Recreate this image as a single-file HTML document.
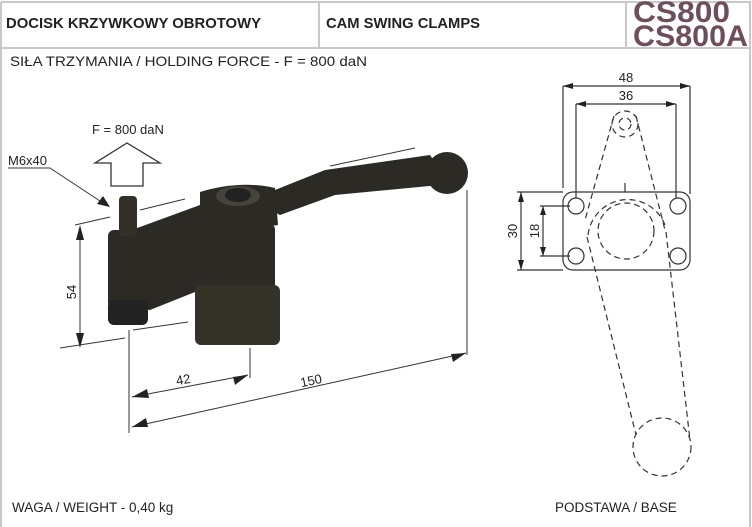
<!DOCTYPE html>
<html><head><meta charset="utf-8"><style>
body{margin:0;background:#fff;}
svg{display:block;font-family:"Liberation Sans",sans-serif;}
</style></head><body>
<svg width="752" height="527" viewBox="0 0 752 527">
<rect x="0" y="0" width="752" height="527" fill="#fff"/>
<g stroke="#c8c8c8" stroke-width="2" fill="none">
<line x1="1" y1="2" x2="751" y2="2"/>
<line x1="1" y1="48" x2="751" y2="48"/>
<line x1="1" y1="2" x2="1" y2="527"/>
<line x1="319" y1="2" x2="319" y2="48"/>
<line x1="626" y1="2" x2="626" y2="48"/>
<line x1="750" y1="2" x2="750" y2="527"/>
</g>
<text x="6" y="28" font-size="15" font-weight="bold" fill="#222" textLength="255" lengthAdjust="spacingAndGlyphs">DOCISK KRZYWKOWY OBROTOWY</text>
<text x="326" y="28" font-size="15" font-weight="bold" fill="#222" textLength="154" lengthAdjust="spacingAndGlyphs">CAM SWING CLAMPS</text>
<text x="633" y="22" font-size="30" font-weight="bold" fill="#6e4e5c" textLength="97" lengthAdjust="spacingAndGlyphs">CS800</text>
<text x="633" y="46" font-size="30" font-weight="bold" fill="#6e4e5c" textLength="115" lengthAdjust="spacingAndGlyphs">CS800A</text>
<text x="10" y="66" font-size="14" fill="#222" textLength="357" lengthAdjust="spacingAndGlyphs">SIŁA TRZYMANIA / HOLDING FORCE - F = 800 daN</text>
<text x="12" y="512" font-size="13.5" fill="#222">WAGA / WEIGHT - 0,40 kg</text>
<text x="555" y="512" font-size="13.5" fill="#222">PODSTAWA / BASE</text>

<text x="92" y="134" font-size="13" fill="#222">F = 800 daN</text>
<path d="M127,143 L160,163 L143,163 L143,186 L111,186 L111,163 L95,163 Z" fill="none" stroke="#333" stroke-width="1.3"/>
<text x="8" y="165" font-size="13" fill="#222">M6x40</text>
<line x1="8" y1="168" x2="50" y2="168" stroke="#333"/>
<line x1="50" y1="168" x2="106" y2="205" stroke="#333"/>
<path d="M110,207 L97,204 L103,196 Z" fill="#222"/>

<g fill="#2b2a25">
<path d="M325,170 L430,155 L440,170 L440,185 L335,195 L280,215 L250,200 Z"/>
<circle cx="447" cy="173" r="21"/>
<path d="M200,192 Q240,180 275,188 L278,225 Q240,232 200,225 Z"/>
<path d="M110,238 L200,205 L205,288 L150,310 L110,305 Z"/>
<rect x="195" y="225" width="80" height="65" rx="4"/>
<rect x="195" y="285" width="85" height="60" rx="6" fill="#353328"/>
<rect x="108" y="230" width="40" height="78" rx="6"/>
<rect x="108" y="300" width="40" height="25" rx="6" fill="#222"/>
<rect x="119" y="196" width="18" height="40" rx="4" fill="#333028"/>
</g>
<ellipse cx="238" cy="196" rx="22" ry="10" fill="#45433a"/>
<ellipse cx="238" cy="195" rx="13" ry="7" fill="#222"/>

<g stroke="#333" stroke-width="1" fill="none">
<line x1="75" y1="225" x2="110" y2="217"/>
<line x1="140" y1="210" x2="185" y2="199"/>
<line x1="60" y1="348" x2="125" y2="338"/>
<line x1="133" y1="330" x2="188" y2="322"/>
<line x1="80" y1="228" x2="80" y2="346"/>
<line x1="129" y1="330" x2="129" y2="433"/>
<line x1="250" y1="348" x2="250" y2="378"/>
<line x1="467" y1="190" x2="467" y2="355"/>
<line x1="132" y1="397" x2="248" y2="375"/>
<line x1="132" y1="427" x2="466" y2="353"/>
<line x1="330" y1="166" x2="415" y2="148"/>
</g>
<g fill="#222">
<path d="M80,225 L76,240 L84,240 Z"/>
<path d="M80,348 L76,333 L84,333 Z"/>
<path d="M132,397 L147,389 L149,398 Z"/>
<path d="M248,375 L233,377 L235,385 Z"/>
<path d="M132,427 L146,418 L148,427 Z"/>
<path d="M466,353 L451,354 L453,362 Z"/>
</g>
<text x="76" y="292" font-size="13" fill="#222" transform="rotate(-90 76 292)" text-anchor="middle">54</text>
<text x="184" y="384" font-size="13" fill="#222" transform="rotate(-10 184 384)" text-anchor="middle">42</text>
<text x="312" y="385" font-size="13" fill="#222" transform="rotate(-12 312 385)" text-anchor="middle">150</text>

<g stroke="#333" stroke-width="1.2" fill="none">
<rect x="563" y="192" width="127" height="78" rx="10"/>
<circle cx="576" cy="206" r="8"/><circle cx="678" cy="206" r="8"/>
<circle cx="576" cy="256" r="8"/><circle cx="678" cy="256" r="8"/>
<line x1="563" y1="86" x2="690" y2="86"/><line x1="563" y1="86" x2="563" y2="188"/><line x1="690" y1="86" x2="690" y2="194"/>
<line x1="576" y1="104" x2="676" y2="104"/><line x1="576" y1="104" x2="576" y2="198"/><line x1="676" y1="104" x2="676" y2="198"/>
<line x1="521" y1="192" x2="521" y2="270"/><line x1="517" y1="192" x2="563" y2="192"/><line x1="517" y1="270" x2="563" y2="270"/>
<line x1="543" y1="206" x2="543" y2="256"/><line x1="540" y1="206" x2="570" y2="206"/><line x1="540" y1="256" x2="570" y2="256"/>
<line x1="625" y1="183" x2="625" y2="192"/>
</g>
<g stroke="#333" stroke-width="1.2" fill="none" stroke-dasharray="6,4">
<circle cx="626" cy="231" r="28"/>
<path d="M588,235 A40,40 0 0 1 665,225"/>
<circle cx="625" cy="124" r="13"/>
<circle cx="625" cy="124" r="6"/>
<circle cx="662" cy="447" r="29"/>
<line x1="614" y1="116" x2="585" y2="220"/>
<line x1="636" y1="116" x2="665" y2="230"/>
<line x1="587" y1="237" x2="636" y2="435"/>
<line x1="666" y1="232" x2="690" y2="440"/>
</g>
<g fill="#222">
<path d="M563,86 L573,83 L573,89 Z"/><path d="M690,86 L680,83 L680,89 Z"/>
<path d="M576,104 L586,101 L586,107 Z"/><path d="M676,104 L666,101 L666,107 Z"/>
<path d="M521,192 L518,202 L524,202 Z"/><path d="M521,270 L518,260 L524,260 Z"/>
<path d="M543,206 L540,215 L546,215 Z"/><path d="M543,256 L540,247 L546,247 Z"/>
</g>
<text x="626" y="82" font-size="13" fill="#222" text-anchor="middle">48</text>
<text x="626" y="100" font-size="13" fill="#222" text-anchor="middle">36</text>
<text x="517" y="231" font-size="13" fill="#222" transform="rotate(-90 517 231)" text-anchor="middle">30</text>
<text x="539" y="231" font-size="13" fill="#222" transform="rotate(-90 539 231)" text-anchor="middle">18</text>
</svg>
</body></html>
